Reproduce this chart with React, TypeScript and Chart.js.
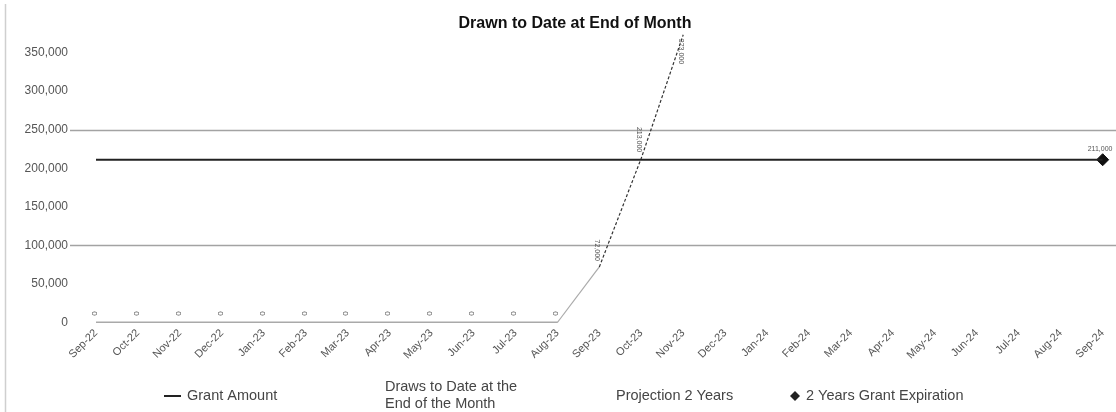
import React, { useEffect, useRef } from "react";
import { Chart, registerables } from "chart.js";

Chart.register(...registerables);

const months = [
  "Sep-22", "Oct-22", "Nov-22", "Dec-22", "Jan-23", "Feb-23", "Mar-23", "Apr-23",
  "May-23", "Jun-23", "Jul-23", "Aug-23", "Sep-23", "Oct-23", "Nov-23", "Dec-23",
  "Jan-24", "Feb-24", "Mar-24", "Apr-24", "May-24", "Jun-24", "Jul-24", "Aug-24", "Sep-24",
];

const grantAmount = [
  211000, 211000, 211000, 211000, 211000, 211000, 211000, 211000, 211000, 211000,
  211000, 211000, 211000, 211000, 211000, 211000, 211000, 211000, 211000, 211000,
  211000, 211000, 211000, 211000, 211000,
];

const drawsToDate = [
  0, 0, 0, 0, 0, 0, 0, 0, 0, 0, 0, 0, null, null, null, null, null, null, null, null,
  null, null, null, null, null,
];

const projection2Years = [
  null, null, null, null, null, null, null, null, null, null, null, 0, 72000, 213000,
  373000, null, null, null, null, null, null, null, null, null, null,
];

const grantExpiration = [
  null, null, null, null, null, null, null, null, null, null, null, null, null, null,
  null, null, null, null, null, null, null, null, null, null, 211000,
];

const yMin = 0;
const yMax = 350000;
const yStep = 50000;
const highlightedGridValues = [100000, 250000];

const titleText = "Drawn to Date at End of Month";
const legendGrant = "Grant Amount";
const legendDraws = ["Draws to Date at the", "End of the Month"];
const legendProjection = "Projection 2 Years";
const legendExpiration = "2 Years Grant Expiration";

const FONT = "'Liberation Sans', Arial, sans-serif";
const fmt = (v: number) => v.toLocaleString("en-US");

const decorPlugin = {
  id: "decor",
  beforeDraw(chart: any) {
    const { ctx, width, height } = chart;
    ctx.save();
    ctx.fillStyle = "#ffffff";
    ctx.fillRect(0, 0, width, height);
    ctx.strokeStyle = "#cfcfcf";
    ctx.lineWidth = 1.5;
    ctx.beginPath();
    ctx.moveTo(5.5, 4);
    ctx.lineTo(5.5, height);
    ctx.stroke();
    // title
    ctx.fillStyle = "#111";
    ctx.font = `bold 16px ${FONT}`;
    ctx.textAlign = "center";
    ctx.textBaseline = "middle";
    ctx.fillText(titleText, 575, 24);
    ctx.restore();
  },
  beforeDatasetsDraw(chart: any) {
    const { ctx, width } = chart;
    const y = chart.scales.y;
    ctx.save();
    ctx.strokeStyle = "#a3a3a3";
    ctx.lineWidth = 1.5;
    highlightedGridValues.forEach((v) => {
      const py = Math.round(y.getPixelForValue(v)) + 0.5;
      ctx.beginPath();
      ctx.moveTo(70, py);
      ctx.lineTo(width, py);
      ctx.stroke();
    });
    ctx.restore();
  },
  afterDatasetsDraw(chart: any) {
    const { ctx, chartArea } = chart;
    ctx.save();
    ctx.fillStyle = "#555";
    ctx.textAlign = "center";
    ctx.textBaseline = "middle";
    chart.data.datasets.forEach((ds: any, di: number) => {
      const mode = ds.labelMode;
      if (!mode) return;
      const meta = chart.getDatasetMeta(di);
      meta.data.forEach((pt: any, i: number) => {
        const v = ds.data[i];
        if (v === null || v === undefined) return;
        if (mode === "projection" && v === 0) return;
        const txt = fmt(v);
        if (mode === "expiration") {
          ctx.font = `7px ${FONT}`;
          ctx.textAlign = "left";
          ctx.fillText(txt, pt.x - 15, pt.y - 11);
          ctx.textAlign = "center";
          return;
        }
        ctx.font = mode === "zero" ? `8px ${FONT}` : `7px ${FONT}`;
        const len = ctx.measureText(txt).width;
        let cy = pt.y - 9;
        if (mode === "projection") {
          cy = pt.y - 6 - len / 2;
          if (cy - len / 2 < chartArea.top - 20) cy = pt.y + 4 + len / 2;
        }
        ctx.save();
        ctx.translate(pt.x - 2, cy);
        ctx.rotate(Math.PI / 2);
        ctx.fillText(txt, 0, 0);
        ctx.restore();
      });
    });
    ctx.restore();
  },
  afterDraw(chart: any) {
    const { ctx } = chart;
    const ly = 396;
    ctx.save();
    ctx.font = `14.5px ${FONT}`;
    ctx.fillStyle = "#454545";
    ctx.textBaseline = "middle";
    ctx.textAlign = "left";
    // Grant Amount
    ctx.strokeStyle = "#222";
    ctx.lineWidth = 2;
    ctx.beginPath();
    ctx.moveTo(164, ly);
    ctx.lineTo(181, ly);
    ctx.stroke();
    ctx.fillText(legendGrant, 187, ly);
    // Draws
    ctx.fillText(legendDraws[0], 385, ly - 9);
    ctx.fillText(legendDraws[1], 385, ly + 8);
    // Projection
    ctx.fillText(legendProjection, 616, ly);
    // Expiration
    ctx.fillStyle = "#222";
    ctx.beginPath();
    ctx.moveTo(795, ly - 5);
    ctx.lineTo(800, ly);
    ctx.lineTo(795, ly + 5);
    ctx.lineTo(790, ly);
    ctx.closePath();
    ctx.fill();
    ctx.fillStyle = "#454545";
    ctx.fillText(legendExpiration, 806, ly);
    ctx.restore();
  },
};

export default function App() {
  const ref = useRef<HTMLCanvasElement | null>(null);
  useEffect(() => {
    if (!ref.current) return;
    Chart.defaults.font.family = FONT;
    const chart = new Chart(ref.current, {
      type: "line",
      data: {
        labels: months,
        datasets: [
          {
            label: legendGrant,
            data: grantAmount,
            borderColor: "#222",
            borderWidth: 2,
            pointRadius: 0,
          },
          {
            label: legendDraws.join(" "),
            data: drawsToDate,
            borderColor: "#555",
            borderWidth: 1.3,
            pointRadius: 0,
            labelMode: "zero",
          } as any,
          {
            label: legendProjection,
            data: projection2Years,
            borderColor: "#333",
            borderWidth: 1.2,
            borderDash: [3, 2],
            pointRadius: 0,
            clip: false,
            labelMode: "projection",
            segment: {
              borderColor: (c: any) => (c.p0DataIndex === 11 ? "#aaa" : "#333"),
              borderDash: (c: any) => (c.p0DataIndex === 11 ? [] : [3, 2]),
            },
          } as any,
          {
            label: legendExpiration,
            data: grantExpiration,
            showLine: false,
            pointStyle: "rectRot",
            pointRadius: 6,
            backgroundColor: "#111",
            borderColor: "#111",
            clip: false,
            labelMode: "expiration",
          } as any,
        ],
      },
      options: {
        responsive: false,
        animation: false,
        devicePixelRatio: 1,
        layout: { padding: { left: 0, right: 13, top: 52.5, bottom: 49.5 } },
        plugins: {
          legend: { display: false },
          tooltip: { enabled: false },
          title: { display: false },
        },
        scales: {
          x: {
            offset: false,
            grid: { display: false, drawTicks: false },
            border: { display: false },
            ticks: {
              autoSkip: false,
              maxRotation: 45,
              minRotation: 45,
              padding: 4,
              color: "#555",
              font: { size: 11, family: FONT },
            },
            afterFit: (s: any) => {
              s.height = 40;
            },
          },
          y: {
            min: yMin,
            max: yMax,
            grid: { display: false, drawTicks: false },
            border: { display: false },
            ticks: {
              stepSize: yStep,
              padding: 28,
              color: "#555",
              font: { size: 12, family: FONT },
              callback: (v: any) => fmt(Number(v)),
            },
            afterFit: (s: any) => {
              s.width = 96;
            },
          },
        },
      },
      plugins: [decorPlugin],
    });
    return () => chart.destroy();
  }, []);
  return (
    <div style={{ position: "fixed", left: 0, top: 0, width: 1116, height: 412 }}>
      <canvas ref={ref} width={1116} height={412} style={{ width: 1116, height: 412 }} />
    </div>
  );
}
